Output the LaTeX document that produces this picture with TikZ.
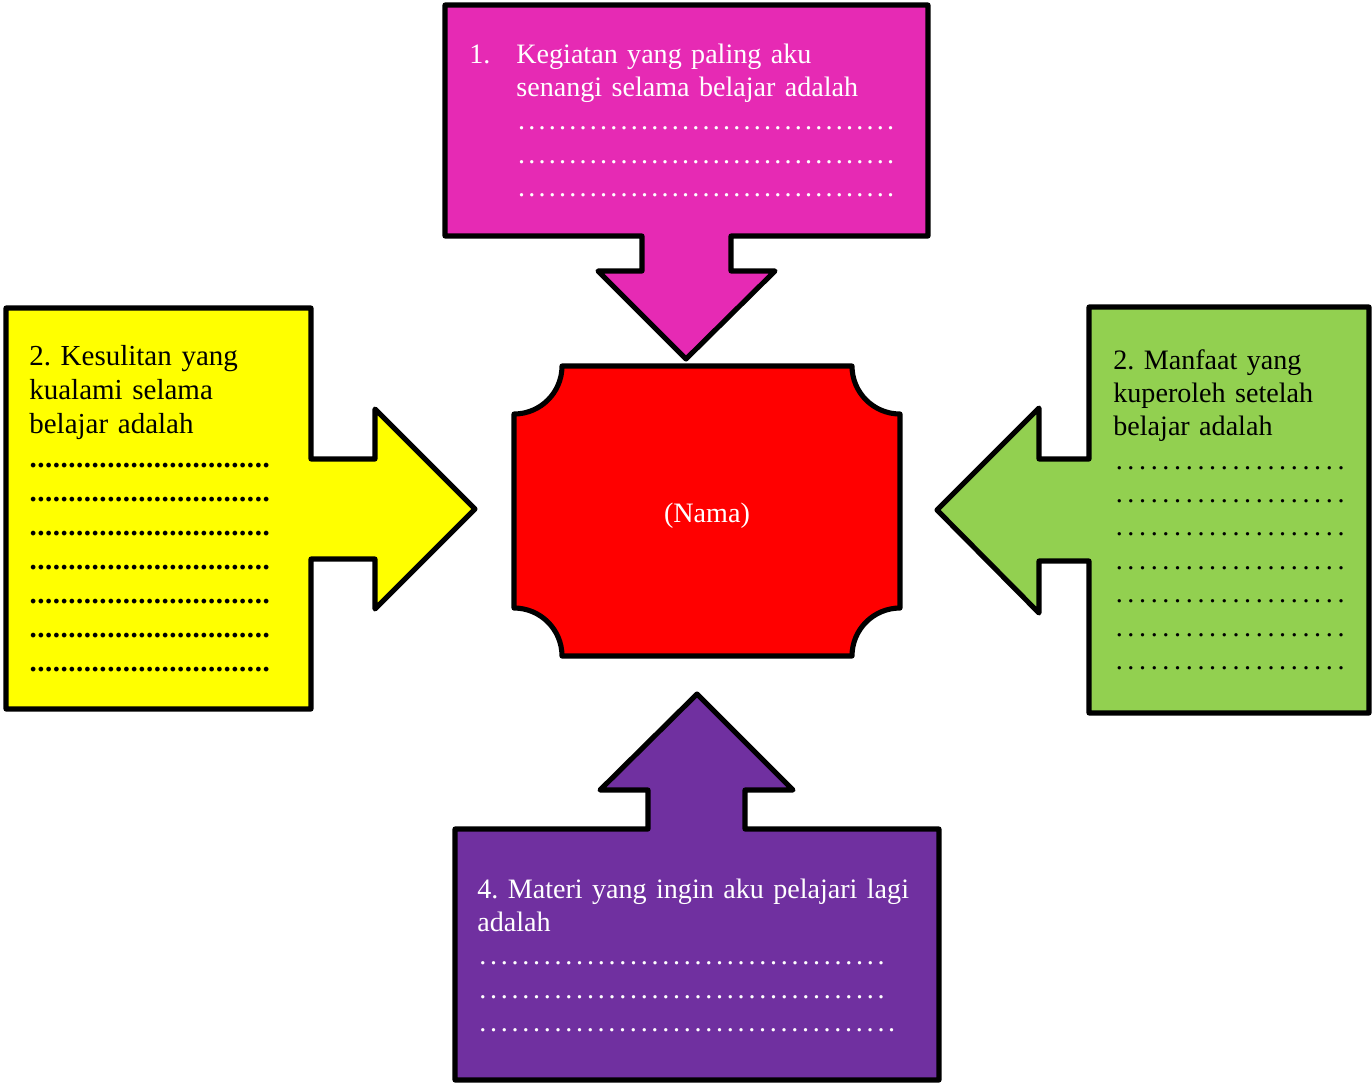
\documentclass[tikz,border=0pt]{standalone}
\usepackage{fontspec}
\setmainfont{Liberation Serif}
\usepackage{tikz}
\frenchspacing

\definecolor{ungu muda}{HTML}{E62AB4}
\definecolor{kuning}{HTML}{FFFF00}
\definecolor{hijau}{HTML}{92D050}
\definecolor{ungu}{HTML}{7030A0}
\definecolor{merah}{HTML}{FF0000}

% baris titik-titik: #1 jarak antar titik, #2 panjang baris
\newcommand\titik[2]{\leavevmode\hbox to #2{\xleaders\hbox to #1{\hss.\hss}\hfill}}
\newcommand\titiktebal[2]{\leavevmode\hbox to #2{\xleaders\hbox to #1{\hss\textbf{.}\hss}\hfill}}

\begin{document}
\begin{tikzpicture}[x=0.02cm,y=-0.02cm,
    bentuk/.style={draw=black,line width=2.9pt,line join=round},
    isi/.style={anchor=base west,inner sep=0pt,align=left,text width=9cm,
      font=\fontsize{16}{19}\selectfont}]
  \useasboundingbox (0,0) rectangle (1372,1083);

  % 1. atas
  \draw[bentuk,fill=ungu muda] (445,5) -- (928,5) -- (928,236) -- (731,236) -- (731,271) -- (775,271)
    -- (686,359) -- (598,271) -- (642,271) -- (642,236) -- (445,236) -- cycle;
  \node[isi,text=white] (no1) at (469,63) {1.};
  \node[isi,text=white] (kegiatan) at (516,63) {Kegiatan yang paling aku\\senangi selama belajar adalah\\
    \titik{5.75pt}{216pt}\\\titik{5.75pt}{216pt}\\\titik{5.75pt}{216pt}};

  % 2. kiri
  \draw[bentuk,fill=kuning] (6,308) -- (311,308) -- (311,459) -- (375,459) -- (375,409) -- (475,509)
    -- (375,609) -- (375,559) -- (311,559) -- (311,709) -- (6,709) -- cycle;
  \node[isi,font=\fontsize{16.5}{19.4}\selectfont] (kesulitan) at (29,365) {2. Kesulitan yang\\kualami selama\\belajar adalah\\
    \titiktebal{4.4pt}{137pt}\\\titiktebal{4.4pt}{137pt}\\\titiktebal{4.4pt}{137pt}\\\titiktebal{4.4pt}{137pt}\\
    \titiktebal{4.4pt}{137pt}\\\titiktebal{4.4pt}{137pt}\\\titiktebal{4.4pt}{137pt}};

  % 3. kanan
  \draw[bentuk,fill=hijau] (1089,307) -- (1369,307) -- (1369,713) -- (1089,713) -- (1089,561) -- (1039,561)
    -- (1039,613) -- (937,510) -- (1039,408) -- (1039,459) -- (1089,459) -- cycle;
  \node[isi] (manfaat) at (1113,369) {2. Manfaat yang\\kuperoleh setelah\\belajar adalah\\
    \titik{6.5pt}{133pt}\\\titik{6.5pt}{133pt}\\\titik{6.5pt}{133pt}\\\titik{6.5pt}{133pt}\\
    \titik{6.5pt}{133pt}\\\titik{6.5pt}{133pt}\\\titik{6.5pt}{133pt}};

  % 4. bawah
  \draw[bentuk,fill=ungu] (455,829) -- (648,829) -- (648,790) -- (600,790) -- (697,694) -- (793,790)
    -- (745,790) -- (745,829) -- (939,829) -- (939,1080) -- (455,1080) -- cycle;
  \node[isi,text=white] (materi) at (477,898) {4. Materi yang ingin aku pelajari lagi\\adalah\\
    \titik{6pt}{233pt}\\\titik{6pt}{233pt}\\\titik{6pt}{239pt}};

  % tengah
  \draw[bentuk,fill=merah] (562,366) -- (852,366) .. controls (852,392.5) and (873.5,414) .. (900,414)
    -- (900,608) .. controls (873.5,608) and (852,629.5) .. (852,656)
    -- (562,656) .. controls (562,629.5) and (540.5,608) .. (514,608)
    -- (514,414) .. controls (540.5,414) and (562,392.5) .. (562,366) -- cycle;
  \node[text=white,font=\fontsize{16}{19}\selectfont] (nama) at (707,516) {(Nama)};
\end{tikzpicture}
\end{document}
